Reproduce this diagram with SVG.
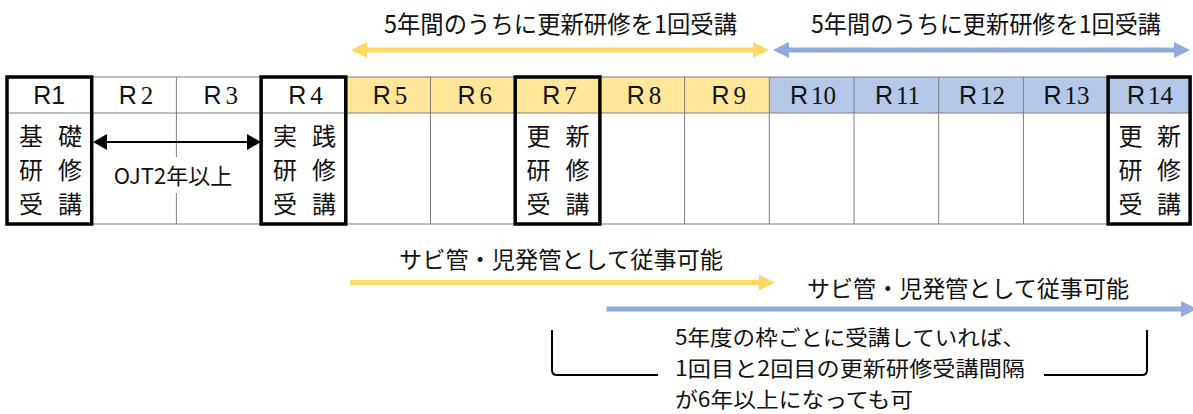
<svg xmlns="http://www.w3.org/2000/svg" width="1193" height="414" viewBox="0 0 1193 414">
<style>
.t{font-family:"Noto Sans CJK JP","Noto Sans",sans-serif;fill:#111;}
.h{font-family:"Liberation Sans","Noto Sans",sans-serif;font-size:25px;fill:#111;text-anchor:middle;}
.d{font-family:"Liberation Serif",serif;}
.grid{stroke:#7f7f7f;stroke-width:1;fill:none;}
.bold{stroke:#000;stroke-width:3.5;fill:none;}
.body{font-size:24px;text-anchor:middle;dominant-baseline:central;}
.yl{stroke:#FFD966;stroke-width:5;fill:none;}
.bl{stroke:#8FAADC;stroke-width:5;fill:none;}
.br{stroke:#000;stroke-width:2;fill:none;}
.note{font-size:21px;dominant-baseline:central;}
</style>
<defs>
<marker id="hy" markerUnits="userSpaceOnUse" markerWidth="17" markerHeight="18" refX="0" refY="8" orient="auto-start-reverse" viewBox="0 0 17 16"><path d="M0,0 L16,8 L0,16 z" fill="#FFD966"/></marker>
<marker id="hb" markerUnits="userSpaceOnUse" markerWidth="17" markerHeight="18" refX="0" refY="8" orient="auto-start-reverse" viewBox="0 0 17 16"><path d="M0,0 L16,8 L0,16 z" fill="#8FAADC"/></marker>
<marker id="hk" markerUnits="userSpaceOnUse" markerWidth="15" markerHeight="17" refX="0" refY="8" orient="auto-start-reverse" viewBox="0 0 15 16"><path d="M0,0 L14,8 L0,16 z" fill="#000"/></marker>
</defs>
<rect width="1193" height="414" fill="#fff"/>

<g id="table">
<rect x="7" y="77" width="338.8" height="36" fill="#fff"/>
<rect x="345.8" y="77" width="423.5" height="36" fill="#FFE699"/>
<rect x="769.3" y="77" width="420.7" height="36" fill="#B4C7E7"/>
<path class="grid" d="M7,77 H1190 M7,113 H1190 M7,224 H1190 M176.4,77 V157 M176.4,193 V224 M430.5,77 V224 M684.6,77 V224 M769.3,77 V224 M854,77 V224 M938.7,77 V224 M1023.4,77 V224 M91.7,77 V224 M261.1,77 V224 M345.8,77 V224 M515.2,77 V224 M599.9,77 V224 M1108.1,77 V224"/>
</g>

<g id="R1">
<rect class="bold" x="7" y="77" width="84.7" height="147"/>
<text class="h" x="49.3" y="104">R1</text>
<g class="t body"><text x="31" y="134">基</text><text x="70" y="134">礎</text><text x="31" y="168">研</text><text x="70" y="168">修</text><text x="31" y="202">受</text><text x="70" y="202">講</text></g>
</g>
<g id="R2"><text class="h" x="136" y="104">R<tspan class="d" dx="4">2</tspan></text></g>
<g id="R3"><text class="h" x="220.8" y="104">R<tspan class="d" dx="4">3</tspan></text></g>
<g id="R4">
<rect class="bold" x="261.1" y="77" width="84.7" height="147"/>
<text class="h" x="305.5" y="104">R<tspan class="d" dx="4">4</tspan></text>
<g class="t body"><text x="285" y="134">実</text><text x="324" y="134">践</text><text x="285" y="168">研</text><text x="324" y="168">修</text><text x="285" y="202">受</text><text x="324" y="202">講</text></g>
</g>
<g id="R5"><text class="h" x="390" y="104">R<tspan class="d" dx="4">5</tspan></text></g>
<g id="R6"><text class="h" x="474.8" y="104">R<tspan class="d" dx="4">6</tspan></text></g>
<g id="R7">
<rect class="bold" x="515.2" y="77" width="84.7" height="147"/>
<text class="h" x="559.5" y="104">R<tspan class="d" dx="4">7</tspan></text>
<g class="t body"><text x="538.5" y="134">更</text><text x="577.5" y="134">新</text><text x="538.5" y="168">研</text><text x="577.5" y="168">修</text><text x="538.5" y="202">受</text><text x="577.5" y="202">講</text></g>
</g>
<g id="R8"><text class="h" x="644" y="104">R<tspan class="d" dx="4">8</tspan></text></g>
<g id="R9"><text class="h" x="728.8" y="104">R<tspan class="d" dx="4">9</tspan></text></g>
<g id="R10"><text class="h" x="813" y="104">R<tspan class="d" dx="3">10</tspan></text></g>
<g id="R11"><text class="h" x="897.5" y="104">R<tspan class="d" dx="3">11</tspan></text></g>
<g id="R12"><text class="h" x="982" y="104">R<tspan class="d" dx="3">12</tspan></text></g>
<g id="R13"><text class="h" x="1066.5" y="104">R<tspan class="d" dx="3">13</tspan></text></g>
<g id="R14">
<rect class="bold" x="1108.1" y="77" width="82" height="147"/>
<text class="h" x="1150" y="104">R<tspan class="d" dx="3">14</tspan></text>
<g class="t body"><text x="1130.5" y="134">更</text><text x="1169" y="134">新</text><text x="1130.5" y="168">研</text><text x="1169" y="168">修</text><text x="1130.5" y="202">受</text><text x="1169" y="202">講</text></g>
</g>

<g id="connectors">
<line class="yl" x1="367" y1="50" x2="753" y2="50" marker-start="url(#hy)" marker-end="url(#hy)"/>
<line class="bl" x1="789" y1="50" x2="1174" y2="50" marker-start="url(#hb)" marker-end="url(#hb)"/>
<line stroke="#000" stroke-width="2" x1="107" y1="142" x2="247" y2="142" marker-start="url(#hk)" marker-end="url(#hk)"/>
<line class="yl" stroke-width="4" x1="350" y1="282.5" x2="759" y2="282.5" marker-end="url(#hy)"/>
<line class="bl" stroke-width="4" x1="606.5" y1="309" x2="1181" y2="309" marker-end="url(#hb)"/>
<path class="br" d="M552,330 V370 Q552,375 557,375 H658"/>
<path class="br" d="M1044,375 H1142 Q1147,375 1147,370 V330"/>
</g>

<g id="labels" class="t">
<text x="384" y="22" font-size="24" dominant-baseline="central" textLength="353" lengthAdjust="spacingAndGlyphs">5年間のうちに更新研修を1回受講</text>
<text x="811" y="22" font-size="24" dominant-baseline="central" textLength="350" lengthAdjust="spacingAndGlyphs">5年間のうちに更新研修を1回受講</text>
<text x="173" y="174" font-size="22" text-anchor="middle" dominant-baseline="central">OJT2年以上</text>
<text x="399" y="258" font-size="23" dominant-baseline="central" textLength="324" lengthAdjust="spacingAndGlyphs">サビ管・児発管として従事可能</text>
<text x="807" y="287" font-size="23" dominant-baseline="central" textLength="322" lengthAdjust="spacingAndGlyphs">サビ管・児発管として従事可能</text>
<text class="note" x="675" y="336" textLength="350" lengthAdjust="spacingAndGlyphs">5年度の枠ごとに受講していれば、</text>
<text class="note" x="675" y="367" textLength="350" lengthAdjust="spacingAndGlyphs">1回目と2回目の更新研修受講間隔</text>
<text class="note" x="675" y="398" textLength="238" lengthAdjust="spacingAndGlyphs">が6年以上になっても可</text>
</g>
</svg>
